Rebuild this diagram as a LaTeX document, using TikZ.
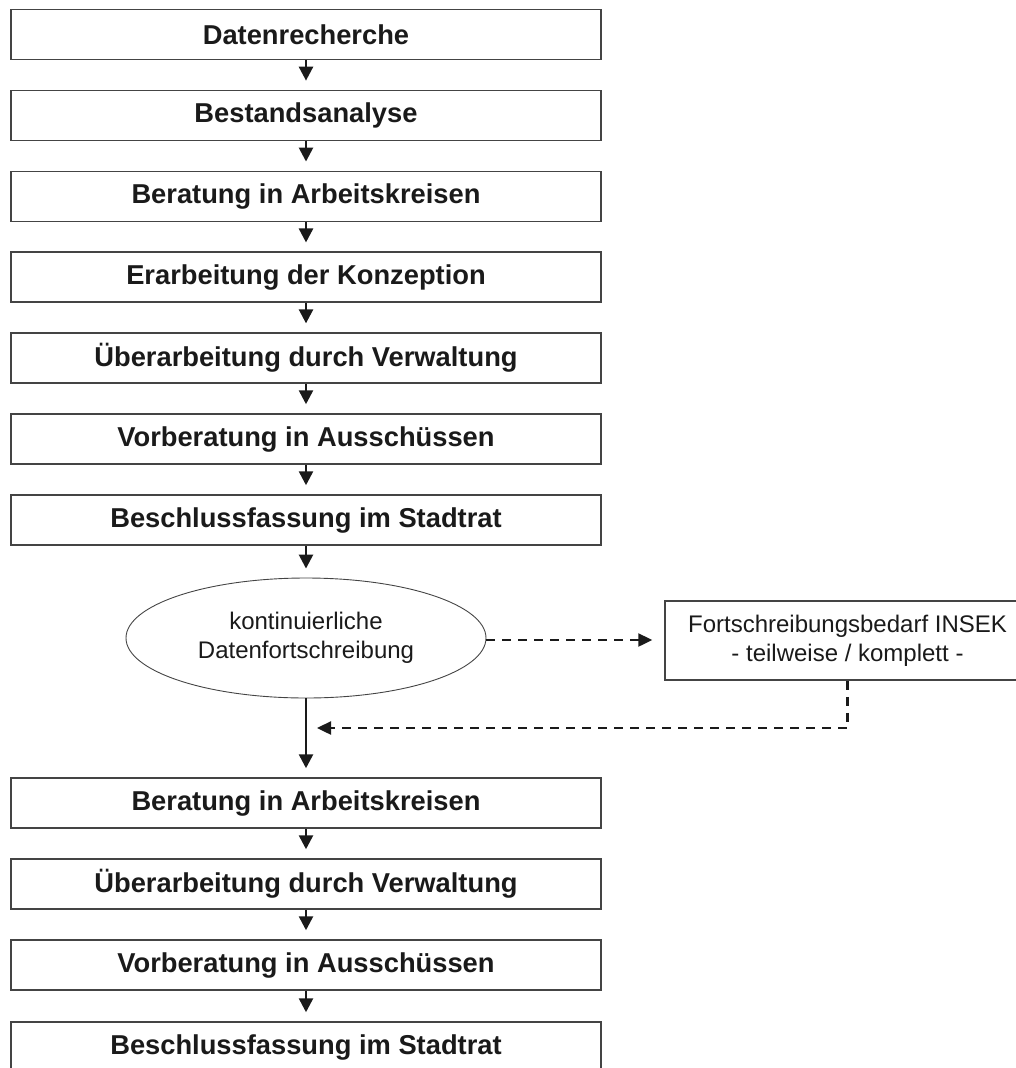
\documentclass[tikz,border=0pt]{standalone}
\usepackage{fontspec}
\setmainfont{Liberation Sans}
\usetikzlibrary{shapes.geometric,arrows.meta}
\definecolor{edge}{HTML}{444444}
\definecolor{ink}{HTML}{1A1A1A}
\begin{document}
\begin{tikzpicture}[x=1pt,y=-1pt,
  stepbox/.style={draw=edge,line width=1.5pt,rectangle,minimum width=590pt,minimum height=50pt,
    inner sep=0pt,text=ink,font=\fontsize{27.3}{30}\selectfont\bfseries},
  ellnode/.style={draw=edge,line width=0.9pt,ellipse,minimum width=360pt,minimum height=120pt,
    inner sep=0pt,text=ink,align=center,font=\fontsize{24}{28.5}\selectfont},
  fbbox/.style={draw=edge,line width=1.5pt,rectangle,minimum width=365pt,minimum height=79pt,
    inner sep=0pt,text=ink,align=center,font=\fontsize{24}{29}\selectfont},
  arr/.style={draw=ink,line width=2.6pt,-{Triangle[length=14pt,width=14pt]},shorten >=9pt},
  darr/.style={draw=ink,line width=2.4pt,dash pattern=on 9pt off 7pt,-{Triangle[length=14pt,width=13pt]}}]
\useasboundingbox (0,0) rectangle (1016,1068);
\node[stepbox] (b1) at (306,34.5) {Datenrecherche};
\node[stepbox] (b2) at (306,115.4) {Bestandsanalyse};
\node[stepbox] (b3) at (306,196.3) {Beratung in Arbeitskreisen};
\node[stepbox] (b4) at (306,277.2) {Erarbeitung der Konzeption};
\node[stepbox] (b5) at (306,358.1) {Überarbeitung durch Verwaltung};
\node[stepbox] (b6) at (306,439) {Vorberatung in Ausschüssen};
\node[stepbox] (b7) at (306,520) {Beschlussfassung im Stadtrat};
\node[ellnode] (ell) at (306,638) {kontinuierliche\\Datenfortschreibung};
\node[fbbox] (fb) at (847.5,640.5) {Fortschreibungsbedarf INSEK\\- teilweise / komplett -};
\node[stepbox] (c1) at (306,803) {Beratung in Arbeitskreisen};
\node[stepbox] (c2) at (306,884) {Überarbeitung durch Verwaltung};
\node[stepbox] (c3) at (306,965) {Vorberatung in Ausschüssen};
\node[stepbox] (c4) at (306,1047) {Beschlussfassung im Stadtrat};
\coordinate (ret) at (317,728);
\draw[arr] (b1) -- (b2);
\draw[arr] (b2) -- (b3);
\draw[arr] (b3) -- (b4);
\draw[arr] (b4) -- (b5);
\draw[arr] (b5) -- (b6);
\draw[arr] (b6) -- (b7);
\draw[arr] (b7.south) -- (ell.north);
\draw[arr] (ell.south) -- (c1.north);
\draw[arr] (c1) -- (c2);
\draw[arr] (c2) -- (c3);
\draw[arr] (c3) -- (c4);
\draw[darr,shorten >=12pt] ([yshift=-2pt]ell.east) -- ([yshift=-2pt]fb.west |- ell.east);
\draw[darr] (fb.south) |- (ret);
\end{tikzpicture}
\end{document}
